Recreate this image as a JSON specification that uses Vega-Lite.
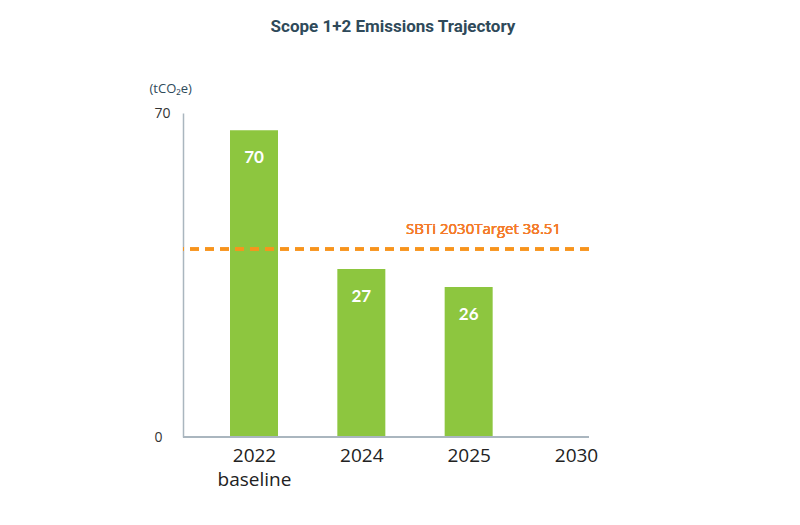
{
  "$schema": "https://vega.github.io/schema/vega-lite/v6.json",
  "autosize": "none",
  "width": 406,
  "height": 324,
  "padding": {"left": 183, "top": 113, "right": 211, "bottom": 88},
  "background": "white",
  "title": {
    "text": "Scope 1+2 Emissions Trajectory",
    "anchor": "middle",
    "dx": 7,
    "offset": 46,
    "font": "Roboto",
    "fontSize": 17,
    "fontWeight": "bold",
    "color": "#2f4a5a"
  },
  "config": {"view": {"stroke": null}},
  "data": {
    "values": [
      {"year": "2022", "drawn": 66.3, "value": 70, "label": "70"},
      {"year": "2024", "drawn": 36.3, "value": 27, "label": "27"},
      {"year": "2025", "drawn": 32.4, "value": 26, "label": "26"},
      {"year": "2030", "drawn": null, "value": null, "label": ""}
    ]
  },
  "layer": [
    {
      "mark": {"type": "bar", "width": 48, "color": "#8dc63f"},
      "encoding": {
        "x": {
          "field": "year",
          "type": "ordinal",
          "sort": ["2022", "2024", "2025", "2030"],
          "scale": {"type": "point", "range": [71, 393], "padding": 0},
          "axis": {
            "title": null,
            "domain": false,
            "ticks": false,
            "labelAngle": 0,
            "labelPadding": 9,
            "labelFont": "Open Sans",
            "labelFontSize": 19,
            "labelColor": "#222222",
            "labelLineHeight": 24,
            "labelExpr": "datum.label == '2022' ? ['2022', 'baseline'] : datum.label"
          }
        },
        "y": {
          "field": "drawn",
          "type": "quantitative",
          "scale": {"domain": [0, 70]},
          "axis": {
            "values": [0, 70],
            "grid": false,
            "ticks": false,
            "domainColor": "#aab6bf",
            "domainWidth": 1.5,
            "labelAlign": "left",
            "labelPadding": 29,
            "labelFont": "Open Sans",
            "labelFontSize": 14,
            "labelColor": "#333333",
            "title": "(tCO₂e)",
            "titleAngle": 0,
            "titleAlign": "left",
            "titleBaseline": "middle",
            "titleX": -34,
            "titleY": -25,
            "titleFont": "Open Sans",
            "titleFontSize": 13,
            "titleFontWeight": "normal",
            "titleColor": "#2f4a5a"
          }
        }
      }
    },
    {
      "mark": {"type": "text", "color": "white", "font": "Lato", "fontWeight": "bold", "fontSize": 17, "baseline": "middle", "dy": 28},
      "encoding": {
        "x": {"field": "year", "type": "ordinal", "sort": ["2022", "2024", "2025", "2030"]},
        "y": {"field": "drawn", "type": "quantitative"},
        "text": {"field": "label"}
      }
    },
    {
      "mark": {"type": "rule", "color": "#f7941d", "strokeWidth": 3, "strokeDash": [9, 6]},
      "encoding": {"y": {"datum": 40.6}}
    },
    {
      "mark": {"type": "text", "color": "#f47b2a", "font": "Open Sans", "fontWeight": "normal", "fontSize": 15, "align": "right", "baseline": "middle", "dx": -15, "dy": -20},
      "encoding": {
        "x": {"datum": "2030"},
        "y": {"datum": 40.6},
        "text": {"value": "SBTi 2030Target 38.51"}
      }
    },
    {
      "mark": {"type": "rule", "color": "#aab6bf", "strokeWidth": 1.5},
      "encoding": {"y": {"datum": 0}}
    }
  ]
}
